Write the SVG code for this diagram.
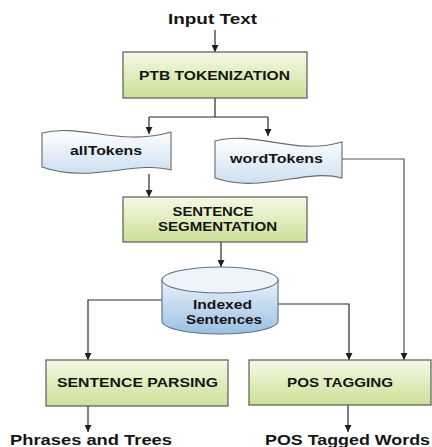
<svg xmlns="http://www.w3.org/2000/svg" width="432" height="447" viewBox="0 0 432 447">
  <defs>
    <linearGradient id="gGreen" x1="0" y1="0" x2="0" y2="1">
      <stop offset="0" stop-color="#f5f9e6"/>
      <stop offset="1" stop-color="#cbe096"/>
    </linearGradient>
    <linearGradient id="gTape" x1="0" y1="0" x2="0" y2="1">
      <stop offset="0" stop-color="#ffffff"/>
      <stop offset="1" stop-color="#cddff1"/>
    </linearGradient>
    <linearGradient id="gDrum" x1="0" y1="0" x2="0" y2="1">
      <stop offset="0" stop-color="#e8f1fa"/>
      <stop offset="1" stop-color="#9cbfe2"/>
    </linearGradient>
    <marker id="arr" viewBox="0 0 10 10" refX="10" refY="5" markerWidth="7" markerHeight="7" markerUnits="userSpaceOnUse" orient="auto">
      <path d="M0,0 L10,5 L0,10 Z" fill="#1e1e1e"/>
    </marker>
  </defs>
  <style>
    .box { fill: url(#gGreen); stroke: #5a5a5a; stroke-width: 1.2; }
    .tape { fill: url(#gTape); stroke: #6a6a6a; stroke-width: 1.1; }
    .drum { fill: url(#gDrum); stroke: #5f6f80; stroke-width: 1.1; }
    .drumTop { fill: #eef4fb; stroke: #5f6f80; stroke-width: 1.1; }
    .lbl { font-family: "Liberation Sans", Arial, sans-serif; font-weight: bold; font-size: 13.5px; fill: #151515; text-anchor: middle; }
    .big { font-family: "Liberation Sans", Arial, sans-serif; font-weight: bold; font-size: 15.5px; fill: #151515; }
    .wire { fill: none; stroke: #2a2a2a; stroke-width: 1.2; marker-end: url(#arr); }
    .plain { fill: none; stroke: #2a2a2a; stroke-width: 1.2; }
  </style>

  <!-- connectors -->
  <g id="connectors">
    <path class="wire" d="M215,30 V52"/>
    <path class="plain" d="M215,98 V117 M149,117 H268"/>
    <path class="wire" d="M149,117 V134"/>
    <path class="wire" d="M268,117 V136"/>
    <path class="wire" d="M149,174 V197"/>
    <path class="wire" d="M221,242 V267"/>
    <path class="wire" d="M162,300 H88 V360"/>
    <path class="wire" d="M278,304 H349 V360"/>
    <path class="wire" d="M342,159 H404 V360" style="stroke:#555"/>
    <path class="wire" d="M88,406 V432"/>
    <path class="wire" d="M348,405 V432"/>
  </g>

  <!-- input label -->
  <g id="input">
    <text class="big" x="168" y="24" textLength="89" lengthAdjust="spacingAndGlyphs">Input Text</text>
  </g>

  <g id="ptb">
    <rect class="box" x="123" y="52" width="184" height="46"/>
    <text class="lbl" x="214.5" y="80" textLength="151" lengthAdjust="spacingAndGlyphs">PTB TOKENIZATION</text>
  </g>

  <g id="allTokens">
    <path class="tape" d="M42,133 C80,123 120,147 171,132 L171,170 C135,160 90,184 42,167 Z"/>
    <text class="lbl" x="106" y="155" textLength="72" lengthAdjust="spacingAndGlyphs">allTokens</text>
  </g>

  <g id="wordTokens">
    <path class="tape" d="M215,141 C255,130 295,156 342,142 L342,178 C305,168 262,194 215,178 Z"/>
    <text class="lbl" x="276.5" y="163" textLength="93" lengthAdjust="spacingAndGlyphs">wordTokens</text>
  </g>

  <g id="segmentation">
    <rect class="box" x="123" y="197" width="184" height="45"/>
    <text class="lbl" x="213" y="216" textLength="81" lengthAdjust="spacingAndGlyphs">SENTENCE</text>
    <text class="lbl" x="217.5" y="231" textLength="119" lengthAdjust="spacingAndGlyphs">SEGMENTATION</text>
  </g>

  <g id="indexed">
    <path class="drum" d="M162,280 V321 A58,13 0 0 0 278,321 V280 Z"/>
    <ellipse class="drumTop" cx="220" cy="280" rx="58" ry="13"/>
    <text class="lbl" x="222.5" y="309" textLength="59" lengthAdjust="spacingAndGlyphs">Indexed</text>
    <text class="lbl" x="224" y="324" textLength="76" lengthAdjust="spacingAndGlyphs">Sentences</text>
  </g>

  <g id="parsing">
    <rect class="box" x="46" y="360" width="182" height="46"/>
    <text class="lbl" x="137.5" y="387" textLength="161" lengthAdjust="spacingAndGlyphs">SENTENCE PARSING</text>
  </g>

  <g id="tagging">
    <rect class="box" x="249" y="360" width="182" height="45"/>
    <text class="lbl" x="340" y="387" textLength="106" lengthAdjust="spacingAndGlyphs">POS TAGGING</text>
  </g>

  <g id="outputs">
    <text class="big" x="10" y="445" textLength="162" lengthAdjust="spacingAndGlyphs">Phrases and Trees</text>
    <text class="big" x="265" y="445" textLength="165" lengthAdjust="spacingAndGlyphs">POS Tagged Words</text>
  </g>
</svg>
